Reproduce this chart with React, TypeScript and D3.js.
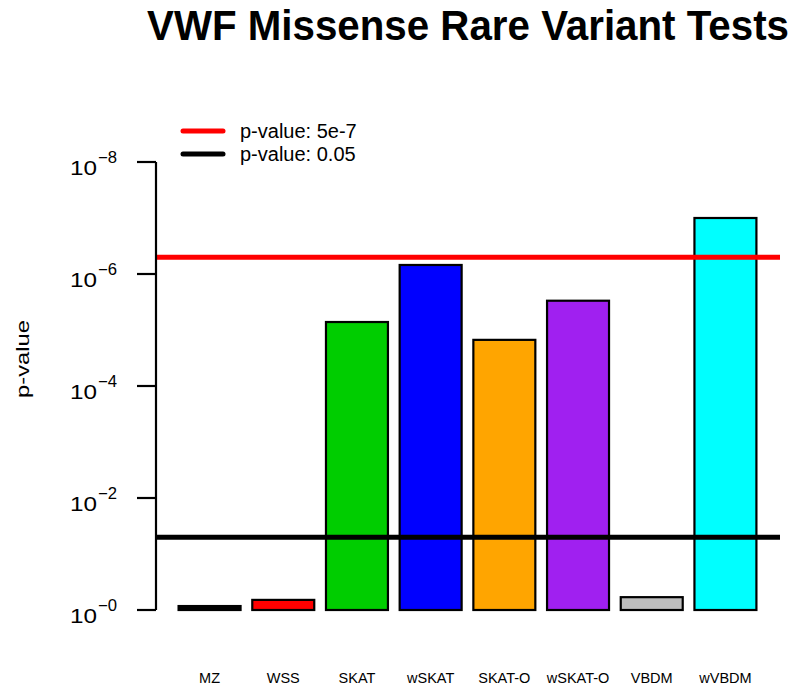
import React from "react";
import * as d3 from "d3";

const categories = ["MZ", "WSS", "SKAT", "wSKAT", "SKAT-O", "wSKAT-O", "VBDM", "wVBDM"];
const pValues = [0.85, 0.66, 7.2e-6, 6.9e-7, 1.5e-5, 3.0e-6, 0.59, 1.0e-7];
const barColors = ["#000000", "#FF0000", "#00CD00", "#0000FF", "#FFA500", "#A020F0", "#BEBEBE", "#00FFFF"];
const tickExponents = [0, 2, 4, 6, 8];
const thresholds = [
  { label: "p-value: 5e-7", p: 5e-7, color: "#FF0000" },
  { label: "p-value: 0.05", p: 0.05, color: "#000000" },
];

const W = 800;
const H = 693;
const FONT = "'Liberation Sans', Arial, Helvetica, sans-serif";

export default function App() {
  const y = d3.scaleLinear().domain([0, 8]).range([610, 162]);
  const x = d3
    .scaleBand<string>()
    .domain(categories)
    .range([155, 780])
    .paddingInner(0.159)
    .paddingOuter(0.32);
  const axisX = 156;

  return (
    <svg
      width={W}
      height={H}
      style={{ position: "absolute", left: 0, top: 0, background: "#fff" }}
      fontFamily={FONT}
    >
      <rect x={0} y={0} width={W} height={H} fill="#fff" />
      <g transform="translate(147,40) scale(1,1.1667)">
        <text
          x={0}
          y={0}
          fontSize={36}
          fontWeight="bold"
          textLength={642}
          lengthAdjust="spacingAndGlyphs"
        >
          VWF Missense Rare Variant Tests
        </text>
      </g>

      {/* bars */}
      {categories.map((c, i) => {
        const v = -Math.log10(pValues[i]);
        return (
          <rect
            key={c}
            x={x(c)}
            y={y(v)}
            width={x.bandwidth()}
            height={y(0) - y(v)}
            fill={barColors[i]}
            stroke="#000"
            strokeWidth={2.2}
          />
        );
      })}

      {/* threshold lines */}
      {thresholds.map((t) => (
        <line
          key={t.label}
          x1={axisX + 1}
          x2={780}
          y1={y(-Math.log10(t.p))}
          y2={y(-Math.log10(t.p))}
          stroke={t.color}
          strokeWidth={5}
        />
      ))}

      {/* y axis */}
      <line x1={axisX} x2={axisX} y1={y(0)} y2={y(8)} stroke="#000" strokeWidth={2.2} />
      {tickExponents.map((e) => (
        <g key={e}>
          <line x1={137} x2={axisX} y1={y(e)} y2={y(e)} stroke="#000" strokeWidth={2.2} />
          <text
            x={70}
            y={y(e) + 13}
            fontSize={20}
            textLength={27}
            lengthAdjust="spacingAndGlyphs"
          >
            10
          </text>
          <text
            x={98}
            y={y(e) + 1}
            fontSize={16}
            textLength={19}
            lengthAdjust="spacingAndGlyphs"
          >
            {"\u2212" + e}
          </text>
        </g>
      ))}
      <text
        transform={`translate(29,${359}) rotate(-90)`}
        textAnchor="middle"
        fontSize={19}
        textLength={78}
        lengthAdjust="spacingAndGlyphs"
      >
        p-value
      </text>

      {/* x labels */}
      {categories.map((c) => (
        <text
          key={c}
          x={(x(c) as number) + x.bandwidth() / 2}
          y={683}
          textAnchor="middle"
          fontSize={14.5}
        >
          {c}
        </text>
      ))}

      {/* legend */}
      {thresholds.map((t, i) => (
        <g key={t.label}>
          <line
            x1={183}
            x2={223}
            y1={131 + i * 23}
            y2={131 + i * 23}
            stroke={t.color}
            strokeWidth={5}
            strokeLinecap="round"
          />
          <text x={240} y={131 + i * 23 + 6.5} fontSize={20}>
            {t.label}
          </text>
        </g>
      ))}
    </svg>
  );
}
